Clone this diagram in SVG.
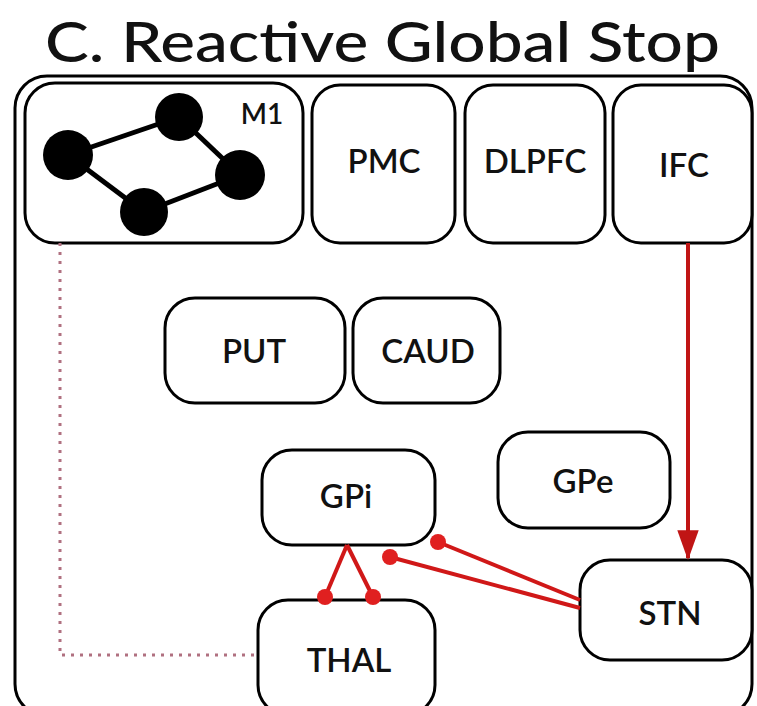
<svg xmlns="http://www.w3.org/2000/svg" width="757" height="706" viewBox="0 0 757 706">
<defs>
<style>
.box{fill:#fff;stroke:#000;stroke-width:3}
.lbl{font-family:Lato,"Liberation Sans",sans-serif;font-size:33px;font-weight:600;fill:#111;text-anchor:middle}
.red{stroke:#d01818;stroke-width:4;fill:none}
.dot{fill:#e02020}
</style>
<marker id="arr" viewBox="0 0 14 10" refX="13" refY="5" markerWidth="7.5" markerHeight="5.4" orient="auto" markerUnits="strokeWidth">
<path d="M0,0 L14,5 L0,10 z" fill="#c01515"/>
</marker>
</defs>
<rect width="757" height="706" fill="#fff"/>
<text x="45" y="62" font-family="Lato,'Liberation Sans',sans-serif" font-size="56" font-weight="500" fill="#111" textLength="675" lengthAdjust="spacingAndGlyphs">C. Reactive Global Stop</text>
<rect id="frame" x="15" y="76" width="737" height="640" rx="32" fill="none" stroke="#000" stroke-width="3"/>
<g id="M1">
<rect class="box" x="25" y="83" width="278" height="160" rx="30"/>
<g stroke="#000" stroke-width="5">
<line x1="68" y1="155" x2="179" y2="117"/>
<line x1="179" y1="117" x2="240" y2="175"/>
<line x1="240" y1="175" x2="144" y2="212"/>
<line x1="144" y1="212" x2="68" y2="155"/>
</g>
<circle cx="68" cy="155" r="25"/>
<circle cx="179" cy="117" r="24"/>
<circle cx="240" cy="175" r="25"/>
<circle cx="144" cy="212" r="24"/>
<text class="lbl" x="262" y="124" style="font-size:28px">M1</text>
</g>
<g id="PMC"><rect class="box" x="312" y="85" width="143" height="158" rx="28"/><text class="lbl" x="384" y="173">PMC</text></g>
<g id="DLPFC"><rect class="box" x="465" y="85" width="140" height="158" rx="28"/><text class="lbl" x="535" y="173">DLPFC</text></g>
<g id="IFC"><rect class="box" x="613" y="85" width="139" height="158" rx="28"/><text class="lbl" x="684" y="177">IFC</text></g>
<g id="PUT"><rect class="box" x="165" y="298" width="180" height="105" rx="30"/><text class="lbl" x="254" y="363">PUT</text></g>
<g id="CAUD"><rect class="box" x="353" y="298" width="147" height="105" rx="30"/><text class="lbl" x="428" y="363">CAUD</text></g>
<g id="GPi"><rect class="box" x="262" y="450" width="173" height="95" rx="30"/><text class="lbl" x="346" y="508">GPi</text></g>
<g id="GPe"><rect class="box" x="498" y="432" width="172" height="96" rx="30"/><text class="lbl" x="583" y="493">GPe</text></g>
<g id="STN"><rect class="box" x="580" y="560" width="172" height="100" rx="30"/><text class="lbl" x="670" y="625">STN</text></g>
<g id="THAL"><rect class="box" x="258" y="600" width="177" height="115" rx="30"/><text class="lbl" x="349" y="672">THAL</text></g>
<g id="connectors">
<polyline points="60,243 60,655 258,655" fill="none" stroke="#b07080" stroke-width="3" stroke-dasharray="3,6"/>
<line x1="688" y1="243" x2="688" y2="558" stroke="#c01515" stroke-width="4" marker-end="url(#arr)"/>
<line class="red" x1="580" y1="600" x2="438" y2="542"/>
<line class="red" x1="580" y1="608" x2="390" y2="557"/>
<line class="red" x1="347" y1="545" x2="325" y2="597"/>
<line class="red" x1="347" y1="545" x2="373" y2="597"/>
<circle class="dot" cx="438" cy="542" r="8"/>
<circle class="dot" cx="390" cy="557" r="8"/>
<circle class="dot" cx="325" cy="597" r="8"/>
<circle class="dot" cx="373" cy="597" r="8"/>
</g>
</svg>
